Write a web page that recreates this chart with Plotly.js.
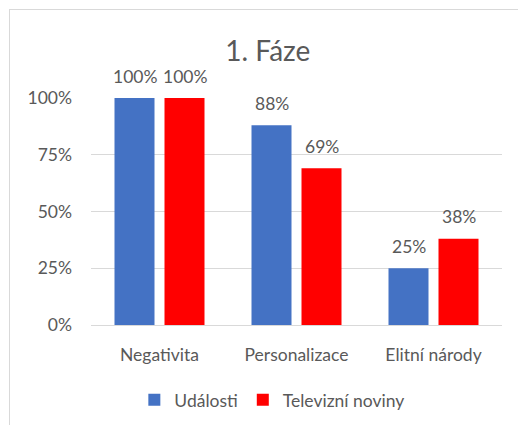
<!DOCTYPE html>
<html><head><meta charset="utf-8">
<script src="https://cdn.plot.ly/plotly-3.0.1.min.js"></script>
<style>
html,body{margin:0;padding:0;background:#fff;}
#wrap{position:relative;width:518px;height:425px;overflow:hidden;}
#chart{width:518px;height:425px;}
#frame{position:absolute;left:9px;top:9px;width:600px;height:500px;border-left:1px solid #d9d9d9;border-top:1px solid #d9d9d9;pointer-events:none;}
</style></head>
<body>
<div id="wrap"><div id="chart"></div><div id="frame"></div></div>
<script>
const categories = ["Negativita", "Personalizace", "Elitní národy"];
const seriesNames = ["Události", "Televizní noviny"];
const udalosti = [1.00, 0.88, 0.25];
const televizni = [1.00, 0.69, 0.38];
const colors = ["#4472C4", "#FF0000"];
const yTicks = [0, 0.25, 0.5, 0.75, 1];
const yTickLabels = ["0%", "25%", "50%", "75%", "100%"];

const font = "Lato, 'Open Sans', sans-serif";
const txt = "#595959";
const series = [udalosti, televizni];

const traces = series.map((vals, i) => ({
  type: "bar",
  name: seriesNames[i],
  x: categories,
  y: vals,
  marker: {color: colors[i]},
  hoverinfo: "none"
}));

const annotations = [];
series.forEach((vals, i) => {
  vals.forEach((v, j) => {
    annotations.push({
      x: categories[j], y: v, xref: "x", yref: "y",
      xshift: i === 0 ? -25 : 25, yshift: 22,
      text: Math.round(v * 100) + "%",
      showarrow: false, yanchor: "middle",
      font: {family: font, size: 17.5, color: txt}
    });
  });
});

const layout = {
  width: 518, height: 425,
  margin: {l: 91, r: 16, t: 98, b: 100, autoexpand: false},
  paper_bgcolor: "#fff", plot_bgcolor: "#fff",
  barmode: "group", bargap: 0.27, bargroupgap: 0.2,
  title: {text: "1. Fáze", x: 0.517, xref: "container", xanchor: "center", y: 0.88, yref: "container", yanchor: "middle",
          font: {family: font, size: 28, color: txt}},
  xaxis: {showgrid: false, showline: true, linecolor: "#d9d9d9", linewidth: 1, ticks: "", automargin: false,
          ticklabelstandoff: 14,
          tickfont: {family: font, size: 17.5, color: txt}},
  yaxis: {range: [0, 1], tickvals: yTicks, ticktext: yTickLabels, showgrid: true, gridcolor: "#d9d9d9",
          zeroline: false, showline: false, ticks: "", ticklen: 0, ticklabelstandoff: 18, automargin: false,
          tickfont: {family: font, size: 17.5, color: txt}},
  legend: {orientation: "h", x: 0.44, xanchor: "center", y: -0.33, yanchor: "middle", itemwidth: 30,
           font: {family: font, size: 17.5, color: txt}},
  annotations: annotations
};

Plotly.newPlot("chart", traces, layout, {displayModeBar: false, staticPlot: true});
</script>
</body></html>
